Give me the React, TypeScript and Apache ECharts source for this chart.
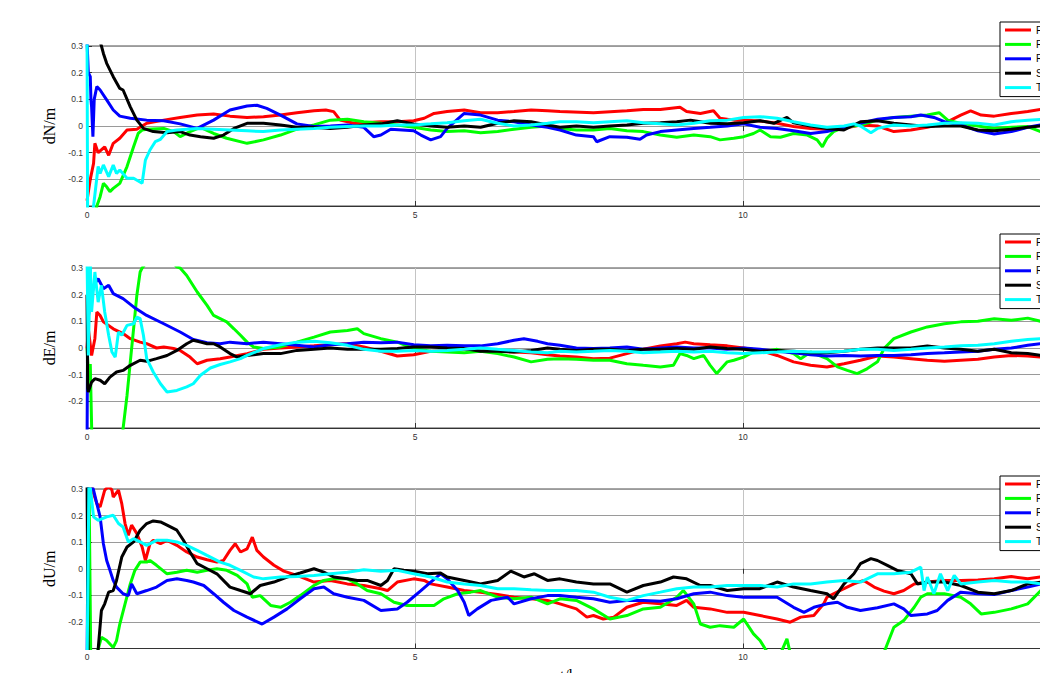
import React, { useEffect, useRef } from 'react';
import * as echarts from 'echarts';

type Pts = [number, number][];

const seriesNames = ['Proposed', 'RKF', 'R-AKF', 'SHAKF', 'Traditional KF'];
const seriesColors = ['#ff0000', '#00ff00', '#0000ff', '#000000', '#00ffff'];
const yAxisNames = ['dN/m', 'dE/m', 'dU/m'];
const xAxisName = 't/hour';
const xRange = [0, 15];
const xStep = 5;
const yRange = [-0.3, 0.3];
const yStep = 0.1;

// ---- dN ----
const dN_P: Pts = [[0,-0.28],[0.05,-0.2],[0.1,-0.14],[0.12,-0.065],[0.17,-0.1],[0.27,-0.078],[0.33,-0.11],[0.4,-0.065],[0.5,-0.046],[0.61,-0.015],[0.76,-0.012],[0.91,0.01],[1.17,0.022],[1.42,0.032],[1.68,0.041],[1.93,0.045],[2.18,0.037],[2.44,0.032],[2.69,0.035],[2.95,0.041],[3.2,0.05],[3.46,0.057],[3.64,0.06],[3.76,0.054],[3.86,0.022],[4.07,0.01],[4.48,0.016],[4.73,0.016],[4.98,0.02],[5.14,0.029],[5.29,0.047],[5.49,0.054],[5.75,0.06],[6.0,0.05],[6.26,0.05],[6.51,0.054],[6.77,0.06],[7.02,0.057],[7.21,0.054],[7.72,0.05],[8.23,0.057],[8.48,0.062],[8.74,0.062],[9.04,0.07],[9.14,0.054],[9.35,0.047],[9.55,0.057],[9.65,0.029],[9.86,0.022],[10.06,0.022],[10.26,0.019],[10.52,0.01],[10.77,-0.002],[11.03,-0.009],[11.28,-0.012],[11.54,-0.009],[11.79,0.004],[12.05,0],[12.3,-0.021],[12.56,-0.015],[12.81,-0.005],[13.07,0.01],[13.32,0.041],[13.47,0.057],[13.63,0.041],[13.83,0.037],[14.09,0.047],[14.34,0.054],[14.54,0.062],[14.8,0.06]];
const dN_R1: Pts = [[0.1,-0.4],[0.15,-0.3],[0.2,-0.265],[0.25,-0.215],[0.3,-0.228],[0.35,-0.246],[0.4,-0.234],[0.5,-0.215],[0.61,-0.152],[0.71,-0.078],[0.78,-0.028],[0.84,-0.015],[0.91,-0.012],[1.17,-0.009],[1.32,-0.021],[1.42,-0.04],[1.57,-0.021],[1.73,-0.005],[1.93,-0.028],[2.13,-0.046],[2.44,-0.065],[2.69,-0.052],[2.95,-0.034],[3.2,-0.012],[3.46,0.004],[3.71,0.022],[3.97,0.025],[4.22,0.016],[4.48,0.01],[4.73,0.004],[4.98,-0.005],[5.24,-0.015],[5.49,-0.021],[5.75,-0.018],[6.0,-0.025],[6.26,-0.021],[6.51,-0.012],[6.77,-0.005],[7.02,0],[7.21,-0.009],[7.46,-0.015],[7.72,-0.015],[7.97,-0.009],[8.23,-0.018],[8.48,-0.021],[8.74,-0.034],[8.99,-0.042],[9.25,-0.034],[9.5,-0.04],[9.65,-0.052],[9.86,-0.046],[10.01,-0.04],[10.16,-0.028],[10.26,-0.015],[10.42,-0.04],[10.57,-0.042],[10.77,-0.028],[10.98,-0.034],[11.13,-0.052],[11.21,-0.078],[11.28,-0.046],[11.38,-0.021],[11.54,-0.005],[11.79,0.004],[12.05,0.022],[12.3,0.032],[12.56,0.037],[12.81,0.041],[12.99,0.05],[13.12,0.022],[13.32,0.01],[13.58,0],[13.83,-0.009],[14.09,-0.005],[14.34,-0.002],[14.54,-0.021],[14.8,-0.015]];
const dN_R2: Pts = [[0,0.32],[0.02,0.2],[0.05,0.185],[0.06,0.1],[0.07,0.072],[0.09,-0.04],[0.11,0.1],[0.15,0.148],[0.2,0.135],[0.3,0.098],[0.4,0.06],[0.5,0.037],[0.66,0.029],[0.91,0.022],[1.17,0.02],[1.42,0.008],[1.68,-0.009],[1.93,0.022],[2.18,0.06],[2.44,0.075],[2.59,0.078],[2.74,0.066],[2.95,0.041],[3.2,0.008],[3.46,-0.002],[3.71,0],[3.97,0.004],[4.22,-0.005],[4.37,-0.04],[4.48,-0.034],[4.63,-0.012],[4.98,-0.018],[5.09,-0.034],[5.24,-0.052],[5.39,-0.04],[5.49,-0.009],[5.75,0.047],[6.0,0.041],[6.26,0.022],[6.51,0.016],[6.77,0.004],[7.02,-0.005],[7.21,-0.015],[7.46,-0.034],[7.72,-0.04],[7.77,-0.059],[7.97,-0.04],[8.23,-0.042],[8.43,-0.05],[8.53,-0.034],[8.74,-0.021],[8.99,-0.015],[9.25,-0.009],[9.5,-0.005],[9.76,0],[10.01,0.008],[10.26,-0.005],[10.52,-0.009],[10.77,-0.018],[11.03,-0.028],[11.28,-0.021],[11.54,-0.005],[11.79,0.01],[12.05,0.025],[12.3,0.032],[12.56,0.035],[12.71,0.041],[12.91,0.032],[13.07,0.016],[13.32,0.004],[13.58,-0.018],[13.83,-0.03],[14.09,-0.021],[14.34,-0.005],[14.54,0.004],[14.8,0.01]];
const dN_S: Pts = [[0.1,0.4],[0.22,0.3],[0.25,0.272],[0.3,0.235],[0.4,0.185],[0.5,0.141],[0.55,0.135],[0.66,0.072],[0.76,0.022],[0.86,-0.009],[1.01,-0.021],[1.22,-0.025],[1.42,-0.021],[1.57,-0.034],[1.73,-0.04],[1.93,-0.046],[2.08,-0.034],[2.24,-0.009],[2.44,0.01],[2.69,0.01],[2.95,0.004],[3.2,-0.005],[3.46,-0.005],[3.71,-0.009],[3.97,-0.005],[4.22,0.004],[4.48,0.008],[4.73,0.02],[4.98,0.008],[5.24,0],[5.49,-0.005],[5.75,0],[6.0,-0.005],[6.26,0.01],[6.51,0.02],[6.77,0.016],[7.02,0.004],[7.21,-0.005],[7.46,0],[7.72,-0.005],[7.97,0],[8.23,0.004],[8.48,0.01],[8.74,0.012],[8.99,0.016],[9.2,0.022],[9.35,0.016],[9.5,0.01],[9.76,0.008],[10.01,0.012],[10.26,0.02],[10.47,0.01],[10.67,0.032],[10.77,0.012],[11.03,0],[11.28,-0.009],[11.54,-0.015],[11.79,0.016],[12.05,0.02],[12.3,0.01],[12.56,0.004],[12.81,-0.002],[13.07,0],[13.32,0],[13.58,-0.015],[13.83,-0.018],[14.09,-0.012],[14.34,-0.005],[14.54,0],[14.8,0.005]];
const dN_T: Pts = [[0,0.4],[0.01,-0.4],[0.1,-0.3],[0.17,-0.152],[0.2,-0.178],[0.25,-0.146],[0.33,-0.19],[0.4,-0.146],[0.45,-0.178],[0.5,-0.165],[0.61,-0.196],[0.71,-0.196],[0.84,-0.215],[0.89,-0.128],[0.96,-0.09],[1.04,-0.059],[1.12,-0.05],[1.22,-0.021],[1.37,-0.015],[1.52,-0.012],[1.68,-0.009],[1.93,-0.012],[2.18,-0.015],[2.44,-0.018],[2.69,-0.021],[2.95,-0.015],[3.2,-0.012],[3.46,-0.009],[3.71,-0.005],[3.97,-0.002],[4.22,0],[4.48,0],[4.73,0.004],[4.98,0.004],[5.24,0.008],[5.49,0.012],[5.75,0.02],[6.0,0.025],[6.26,0.01],[6.51,0],[6.77,0.004],[7.02,0.01],[7.21,0.016],[7.46,0.016],[7.72,0.012],[7.97,0.016],[8.23,0.02],[8.48,0.012],[8.74,0.008],[8.99,0.004],[9.25,0.01],[9.5,0.02],[9.76,0.022],[10.01,0.032],[10.26,0.035],[10.52,0.029],[10.77,0.016],[11.03,0.004],[11.28,-0.005],[11.54,0],[11.69,0.008],[11.79,0],[11.95,-0.025],[12.05,-0.009],[12.3,0.004],[12.56,0],[12.81,0.004],[13.07,0.01],[13.32,0.012],[13.58,0.01],[13.83,0.004],[14.09,0.016],[14.34,0.022],[14.54,0.025],[14.8,0.025]];

// ---- dE ----
const dE_P: Pts = [[0,0],[0.02,0.072],[0.07,-0.028],[0.12,0.035],[0.15,0.135],[0.2,0.122],[0.25,0.098],[0.4,0.072],[0.55,0.054],[0.66,0.035],[0.81,0.022],[0.91,0.016],[1.06,0],[1.17,0.004],[1.32,-0.002],[1.42,-0.009],[1.57,-0.034],[1.68,-0.059],[1.83,-0.046],[2.03,-0.04],[2.18,-0.034],[2.44,-0.021],[2.69,-0.005],[2.95,0],[3.2,0.004],[3.46,0.008],[3.71,0.012],[3.97,0.016],[4.22,0.004],[4.48,-0.012],[4.73,-0.03],[4.98,-0.025],[5.24,-0.012],[5.49,-0.009],[5.75,-0.005],[6.0,-0.009],[6.26,-0.012],[6.51,-0.015],[6.77,-0.018],[7.02,-0.025],[7.21,-0.03],[7.46,-0.034],[7.72,-0.04],[7.97,-0.038],[8.23,-0.021],[8.48,-0.005],[8.74,0.008],[8.99,0.016],[9.12,0.022],[9.25,0.016],[9.5,0.012],[9.76,0.008],[10.01,0],[10.26,-0.009],[10.52,-0.028],[10.77,-0.052],[11.03,-0.065],[11.28,-0.071],[11.54,-0.059],[11.79,-0.046],[12.05,-0.03],[12.3,-0.034],[12.56,-0.04],[12.81,-0.046],[13.07,-0.05],[13.32,-0.046],[13.58,-0.042],[13.83,-0.034],[14.09,-0.028],[14.34,-0.03],[14.54,-0.034],[14.8,-0.03]];
const dE_R1: Pts = [[0,0],[0.03,-0.12],[0.05,-0.06],[0.08,-0.4],[0.5,-0.45],[0.55,-0.302],[0.61,-0.178],[0.66,-0.052],[0.71,0.072],[0.76,0.198],[0.81,0.285],[0.84,0.3],[1.1,0.38],[1.37,0.304],[1.42,0.3],[1.52,0.272],[1.68,0.21],[1.83,0.16],[1.93,0.122],[2.03,0.11],[2.13,0.098],[2.24,0.072],[2.34,0.048],[2.44,0.022],[2.54,0.004],[2.69,-0.002],[2.95,0.004],[3.2,0.022],[3.46,0.041],[3.71,0.06],[3.97,0.066],[4.12,0.072],[4.22,0.054],[4.48,0.035],[4.73,0.022],[4.98,-0.002],[5.24,-0.012],[5.49,-0.015],[5.75,-0.018],[6.0,-0.012],[6.26,-0.021],[6.51,-0.034],[6.77,-0.052],[7.02,-0.042],[7.21,-0.04],[7.46,-0.042],[7.72,-0.046],[7.97,-0.046],[8.23,-0.059],[8.48,-0.065],[8.74,-0.071],[8.94,-0.065],[9.04,-0.021],[9.14,-0.028],[9.25,-0.04],[9.4,-0.028],[9.5,-0.065],[9.6,-0.096],[9.76,-0.052],[9.86,-0.046],[10.01,-0.034],[10.16,-0.015],[10.26,-0.015],[10.52,-0.005],[10.77,-0.021],[10.88,-0.04],[11.03,-0.015],[11.28,-0.04],[11.44,-0.071],[11.59,-0.084],[11.74,-0.096],[11.89,-0.078],[12.05,-0.052],[12.15,-0.002],[12.3,0.035],[12.56,0.06],[12.81,0.079],[13.07,0.091],[13.32,0.098],[13.58,0.1],[13.83,0.11],[14.09,0.104],[14.34,0.112],[14.54,0.1],[14.8,0.1]];
const dE_R2: Pts = [[0,-0.4],[0.01,0.1],[0.04,0.15],[0.1,0.235],[0.17,0.26],[0.25,0.222],[0.33,0.235],[0.4,0.204],[0.55,0.185],[0.71,0.154],[0.91,0.122],[1.17,0.091],[1.42,0.06],[1.62,0.032],[1.83,0.02],[2.03,0.016],[2.18,0.022],[2.44,0.016],[2.69,0.022],[2.95,0.016],[3.2,0.01],[3.46,0.004],[3.71,0.012],[3.97,0.016],[4.22,0.022],[4.48,0.02],[4.73,0.022],[4.98,0.012],[5.24,0.008],[5.49,0.01],[5.75,0.008],[6.0,0.008],[6.26,0.016],[6.51,0.029],[6.66,0.035],[6.87,0.025],[7.02,0.016],[7.21,0.01],[7.46,0],[7.72,-0.002],[7.97,0],[8.23,0.004],[8.48,-0.005],[8.74,0],[8.99,0.004],[9.25,0],[9.5,0],[9.76,-0.005],[10.01,0],[10.26,-0.005],[10.52,-0.012],[10.77,-0.018],[11.03,-0.025],[11.28,-0.03],[11.54,-0.028],[11.79,-0.03],[12.05,-0.028],[12.3,-0.028],[12.56,-0.025],[12.81,-0.021],[13.07,-0.018],[13.32,-0.015],[13.58,-0.012],[13.83,-0.005],[14.09,0],[14.34,0.01],[14.54,0.016],[14.8,0.02]];
const dE_S: Pts = [[0,0.2],[0.01,-0.15],[0.02,-0.165],[0.07,-0.128],[0.12,-0.115],[0.2,-0.121],[0.27,-0.134],[0.35,-0.109],[0.45,-0.09],[0.55,-0.084],[0.66,-0.065],[0.81,-0.046],[0.91,-0.05],[1.06,-0.04],[1.22,-0.028],[1.37,-0.009],[1.52,0.016],[1.62,0.029],[1.73,0.022],[1.83,0.016],[1.93,0.016],[2.03,0.004],[2.18,-0.021],[2.29,-0.034],[2.44,-0.028],[2.69,-0.021],[2.95,-0.021],[3.2,-0.009],[3.46,-0.005],[3.71,0],[3.97,-0.005],[4.22,-0.005],[4.48,-0.005],[4.73,-0.002],[4.98,0.004],[5.24,0.004],[5.49,0],[5.75,-0.002],[6.0,-0.012],[6.26,-0.012],[6.51,-0.015],[6.77,-0.009],[7.02,0],[7.21,-0.005],[7.46,-0.009],[7.72,-0.005],[7.97,-0.005],[8.23,-0.009],[8.48,-0.005],[8.74,-0.005],[8.99,-0.002],[9.25,-0.005],[9.5,0.004],[9.76,-0.002],[10.01,-0.005],[10.26,-0.012],[10.52,-0.009],[10.77,-0.012],[11.03,-0.018],[11.28,-0.018],[11.54,-0.012],[11.79,-0.005],[12.05,0],[12.3,0],[12.56,0],[12.81,0.008],[13.07,0],[13.32,-0.005],[13.58,-0.012],[13.83,-0.005],[14.09,-0.018],[14.34,-0.021],[14.54,-0.028],[14.8,-0.028]];
const dE_T: Pts = [[0,0.35],[0.02,-0.028],[0.05,0.32],[0.07,0.135],[0.12,0.285],[0.17,0.172],[0.22,0.235],[0.27,0.135],[0.33,0.048],[0.38,-0.015],[0.43,-0.034],[0.48,0.06],[0.53,0.048],[0.61,0.085],[0.71,0.091],[0.76,0.116],[0.81,0.11],[0.86,0.048],[0.91,-0.04],[1.01,-0.09],[1.12,-0.134],[1.22,-0.165],[1.37,-0.159],[1.52,-0.146],[1.62,-0.134],[1.73,-0.102],[1.88,-0.075],[2.03,-0.062],[2.18,-0.052],[2.34,-0.04],[2.44,-0.028],[2.69,-0.002],[2.95,0.012],[3.2,0.022],[3.46,0.025],[3.71,0.02],[3.97,0.01],[4.22,-0.005],[4.48,-0.012],[4.73,-0.012],[4.98,-0.009],[5.24,-0.012],[5.49,-0.009],[5.75,-0.005],[6.0,0],[6.26,-0.005],[6.51,-0.009],[6.77,-0.015],[7.02,-0.018],[7.21,-0.012],[7.46,-0.015],[7.72,-0.012],[7.97,-0.009],[8.23,-0.012],[8.48,-0.018],[8.74,-0.015],[8.99,-0.012],[9.25,-0.015],[9.5,-0.012],[9.76,-0.018],[10.01,-0.021],[10.26,-0.018],[10.52,-0.015],[10.77,-0.012],[11.03,-0.015],[11.28,-0.015],[11.54,-0.012],[11.79,-0.005],[12.05,-0.005],[12.3,-0.009],[12.56,-0.005],[12.81,0],[13.07,0.004],[13.32,0.008],[13.58,0.01],[13.83,0.016],[14.09,0.025],[14.34,0.032],[14.54,0.035],[14.8,0.035]];

// ---- dU ----
const dU_P: Pts = [[0.02,0.35],[0.1,0.283],[0.15,0.245],[0.2,0.233],[0.27,0.296],[0.33,0.31],[0.38,0.296],[0.4,0.27],[0.48,0.296],[0.53,0.245],[0.58,0.17],[0.63,0.126],[0.68,0.164],[0.76,0.132],[0.84,0.082],[0.89,0.031],[0.96,0.094],[1.01,0.107],[1.12,0.094],[1.22,0.107],[1.37,0.088],[1.52,0.063],[1.68,0.044],[1.83,0.034],[1.98,0.025],[2.08,0.031],[2.18,0.069],[2.26,0.094],[2.34,0.063],[2.44,0.075],[2.52,0.119],[2.59,0.069],[2.69,0.044],[2.85,0.013],[3.0,-0.009],[3.2,-0.025],[3.46,-0.05],[3.71,-0.044],[3.97,-0.057],[4.22,-0.063],[4.48,-0.075],[4.58,-0.082],[4.73,-0.05],[4.98,-0.038],[5.14,-0.044],[5.24,-0.057],[5.49,-0.069],[5.75,-0.082],[6.0,-0.088],[6.26,-0.097],[6.51,-0.107],[6.77,-0.113],[7.02,-0.119],[7.21,-0.132],[7.46,-0.151],[7.62,-0.182],[7.72,-0.176],[7.87,-0.189],[8.03,-0.182],[8.23,-0.145],[8.48,-0.126],[8.74,-0.132],[8.99,-0.138],[9.14,-0.119],[9.25,-0.145],[9.5,-0.151],[9.76,-0.164],[10.01,-0.164],[10.26,-0.176],[10.52,-0.189],[10.72,-0.201],[10.88,-0.182],[11.08,-0.176],[11.23,-0.132],[11.28,-0.107],[11.38,-0.094],[11.54,-0.075],[11.69,-0.057],[11.84,-0.044],[12.0,-0.069],[12.15,-0.084],[12.3,-0.094],[12.45,-0.082],[12.61,-0.057],[12.81,-0.05],[13.07,-0.044],[13.32,-0.044],[13.58,-0.042],[13.83,-0.038],[14.09,-0.029],[14.34,-0.038],[14.54,-0.031],[14.8,-0.03]];
const dU_R1: Pts = [[0.01,-0.4],[0.03,0.35],[0.06,-0.4],[0.22,-0.258],[0.3,-0.27],[0.4,-0.296],[0.45,-0.27],[0.5,-0.208],[0.58,-0.132],[0.66,-0.057],[0.73,-0.006],[0.81,0.025],[0.91,0.025],[0.96,0.031],[1.06,0.013],[1.22,-0.019],[1.37,-0.013],[1.52,-0.006],[1.68,-0.013],[1.83,-0.006],[1.98,0],[2.13,-0.006],[2.29,-0.025],[2.44,-0.057],[2.52,-0.107],[2.64,-0.101],[2.8,-0.138],[2.95,-0.145],[3.1,-0.126],[3.25,-0.101],[3.46,-0.063],[3.61,-0.044],[3.76,-0.038],[3.97,-0.038],[4.12,-0.057],[4.27,-0.082],[4.48,-0.094],[4.68,-0.126],[4.88,-0.138],[5.09,-0.138],[5.29,-0.138],[5.44,-0.113],[5.65,-0.094],[5.85,-0.088],[6.0,-0.082],[6.26,-0.107],[6.51,-0.113],[6.77,-0.107],[7.02,-0.132],[7.21,-0.113],[7.46,-0.119],[7.72,-0.151],[7.97,-0.189],[8.23,-0.176],[8.48,-0.151],[8.74,-0.145],[8.99,-0.107],[9.09,-0.082],[9.25,-0.132],[9.35,-0.208],[9.5,-0.22],[9.65,-0.214],[9.86,-0.22],[10.01,-0.189],[10.16,-0.245],[10.26,-0.27],[10.34,-0.302],[10.5,-0.36],[10.67,-0.264],[10.75,-0.35],[11.0,-0.45],[11.5,-0.5],[12.0,-0.4],[12.17,-0.302],[12.3,-0.22],[12.45,-0.195],[12.61,-0.145],[12.71,-0.107],[12.81,-0.094],[13.07,-0.094],[13.32,-0.107],[13.47,-0.132],[13.63,-0.17],[13.83,-0.164],[14.09,-0.151],[14.34,-0.132],[14.54,-0.082],[14.8,-0.06]];
const dU_R2: Pts = [[0,-0.4],[0.02,0.35],[0.1,0.296],[0.15,0.245],[0.2,0.195],[0.25,0.094],[0.3,0.031],[0.35,-0.006],[0.4,-0.044],[0.45,-0.069],[0.55,-0.094],[0.63,-0.101],[0.68,-0.057],[0.76,-0.094],[0.91,-0.082],[1.06,-0.069],[1.22,-0.044],[1.37,-0.038],[1.52,-0.044],[1.62,-0.05],[1.78,-0.063],[1.93,-0.094],[2.08,-0.126],[2.24,-0.157],[2.44,-0.182],[2.67,-0.208],[2.85,-0.182],[3.05,-0.151],[3.25,-0.113],[3.46,-0.075],[3.61,-0.069],[3.76,-0.094],[3.97,-0.107],[4.22,-0.119],[4.48,-0.157],[4.73,-0.151],[4.88,-0.126],[5.09,-0.082],[5.24,-0.05],[5.39,-0.019],[5.49,-0.038],[5.65,-0.082],[5.75,-0.126],[5.82,-0.176],[5.95,-0.151],[6.16,-0.119],[6.41,-0.107],[6.51,-0.132],[6.77,-0.113],[7.02,-0.101],[7.21,-0.101],[7.46,-0.107],[7.72,-0.113],[7.97,-0.126],[8.23,-0.119],[8.48,-0.119],[8.74,-0.122],[8.99,-0.113],[9.25,-0.094],[9.5,-0.088],[9.76,-0.101],[10.01,-0.107],[10.26,-0.107],[10.52,-0.107],[10.77,-0.145],[10.93,-0.164],[11.08,-0.145],[11.28,-0.132],[11.44,-0.126],[11.59,-0.145],[11.79,-0.157],[12.05,-0.147],[12.3,-0.132],[12.45,-0.151],[12.56,-0.176],[12.81,-0.17],[12.96,-0.157],[13.12,-0.119],[13.32,-0.088],[13.58,-0.094],[13.83,-0.097],[14.09,-0.082],[14.34,-0.069],[14.54,-0.057],[14.8,-0.05]];
const dU_S: Pts = [[0,0.35],[0.02,-0.4],[0.15,-0.4],[0.17,-0.302],[0.22,-0.157],[0.27,-0.132],[0.33,-0.088],[0.4,-0.082],[0.45,-0.044],[0.53,0.044],[0.61,0.082],[0.71,0.101],[0.81,0.145],[0.91,0.17],[1.01,0.18],[1.12,0.176],[1.22,0.164],[1.37,0.145],[1.47,0.107],[1.57,0.063],[1.68,0.019],[1.83,0],[1.98,-0.019],[2.18,-0.069],[2.34,-0.082],[2.49,-0.094],[2.64,-0.063],[2.85,-0.05],[3.05,-0.031],[3.25,-0.016],[3.46,0],[3.61,-0.013],[3.76,-0.031],[3.97,-0.038],[4.12,-0.044],[4.27,-0.044],[4.48,-0.063],[4.58,-0.044],[4.68,0],[4.83,-0.006],[4.98,-0.009],[5.19,-0.019],[5.39,-0.016],[5.49,-0.031],[5.75,-0.044],[6.0,-0.057],[6.26,-0.044],[6.46,-0.009],[6.66,-0.031],[6.82,-0.019],[7.02,-0.044],[7.21,-0.038],[7.46,-0.05],[7.72,-0.057],[7.97,-0.057],[8.23,-0.088],[8.48,-0.063],[8.74,-0.05],[8.94,-0.031],[9.14,-0.038],[9.35,-0.063],[9.5,-0.063],[9.76,-0.082],[10.01,-0.075],[10.26,-0.075],[10.52,-0.05],[10.77,-0.069],[11.03,-0.082],[11.28,-0.094],[11.38,-0.113],[11.54,-0.057],[11.69,-0.019],[11.79,0.019],[11.95,0.038],[12.05,0.031],[12.2,0.013],[12.35,-0.006],[12.56,-0.019],[12.66,-0.057],[12.81,-0.05],[13.07,-0.05],[13.32,-0.063],[13.58,-0.088],[13.83,-0.094],[14.09,-0.082],[14.34,-0.057],[14.54,-0.05],[14.8,-0.045]];
const dU_T: Pts = [[0,-0.4],[0.03,0.35],[0.1,0.195],[0.17,0.182],[0.3,0.195],[0.4,0.201],[0.48,0.17],[0.55,0.157],[0.63,0.101],[0.71,0.113],[0.81,0.101],[0.91,0.088],[1.06,0.107],[1.22,0.107],[1.37,0.101],[1.52,0.088],[1.68,0.069],[1.83,0.05],[2.03,0.025],[2.18,0.013],[2.34,-0.006],[2.54,-0.031],[2.69,-0.038],[2.95,-0.031],[3.2,-0.029],[3.46,-0.025],[3.71,-0.019],[3.97,-0.013],[4.22,-0.004],[4.48,-0.009],[4.73,-0.006],[4.98,-0.019],[5.24,-0.031],[5.49,-0.05],[5.75,-0.057],[6.0,-0.063],[6.26,-0.075],[6.51,-0.075],[6.77,-0.079],[7.02,-0.082],[7.21,-0.082],[7.46,-0.082],[7.72,-0.088],[7.97,-0.107],[8.23,-0.119],[8.48,-0.101],[8.74,-0.088],[8.99,-0.075],[9.25,-0.069],[9.5,-0.069],[9.76,-0.063],[10.01,-0.063],[10.26,-0.063],[10.52,-0.069],[10.77,-0.057],[11.03,-0.057],[11.28,-0.05],[11.54,-0.044],[11.79,-0.05],[12.05,-0.019],[12.3,-0.019],[12.56,-0.013],[12.71,0.006],[12.76,-0.082],[12.81,-0.031],[12.91,-0.094],[13.01,-0.019],[13.12,-0.082],[13.22,-0.025],[13.32,-0.057],[13.58,-0.05],[13.83,-0.044],[14.09,-0.05],[14.34,-0.05],[14.54,-0.057],[14.8,-0.055]];

const panelData: Pts[][] = [
  [dN_P, dN_R1, dN_R2, dN_S, dN_T],
  [dE_P, dE_R1, dE_R2, dE_S, dE_T],
  [dU_P, dU_R1, dU_R2, dU_S, dU_T],
];

const gridTops = [46, 268, 489];
const gridHeights = [160, 160, 159.5];
const legendTops = [22, 234, 476];

const fmtY = (v: number) => {
  const r = Math.round(v * 10) / 10;
  if (r === -0.3) return '';
  return r === 0 ? '0' : String(r);
};

export default function App() {
  const ref = useRef<HTMLDivElement>(null);
  useEffect(() => {
    if (!ref.current) return;
    const chart = echarts.init(ref.current, null, { renderer: 'svg' });
    const tickColor = '#333333';
    const grid = gridTops.map((t, i) => ({
      left: 87, top: t, width: 984, height: gridHeights[i],
      containLabel: false, outerBoundsMode: 'none',
      show: true, borderColor: '#4d4d4d', borderWidth: 1, backgroundColor: 'transparent',
    }));
    const xAxis: any[] = [];
    gridTops.forEach((_, i) => {
      xAxis.push({
        gridIndex: i, type: 'value', min: xRange[0], max: xRange[1], interval: xStep, position: 'bottom',
        axisLine: { show: true, onZero: false, lineStyle: { color: tickColor, width: 1 } },
        axisTick: { show: true, inside: true, length: 5, lineStyle: { color: tickColor } },
        axisLabel: { fontSize: 8.5, color: tickColor, margin: 4, showMaxLabel: false, fontFamily: 'Liberation Sans, Arial, sans-serif' },
        splitLine: { show: true, lineStyle: { color: '#c4c4c4', width: 1 } },
        name: i === 2 ? xAxisName : '', nameLocation: 'middle', nameGap: 19,
        nameTextStyle: { fontFamily: 'Liberation Serif, Times New Roman, serif', fontSize: 16, color: '#000' },
      });
      xAxis.push({
        gridIndex: i, type: 'value', min: xRange[0], max: xRange[1], interval: xStep, position: 'top',
        axisLine: { show: false },
        axisTick: { show: true, inside: true, length: 5, lineStyle: { color: tickColor } },
        axisLabel: { show: false }, splitLine: { show: false },
      });
    });
    const yAxis = gridTops.map((_, i) => ({
      gridIndex: i, type: 'value', min: yRange[0], max: yRange[1], interval: yStep,
      axisLine: { show: true, onZero: false, lineStyle: { color: tickColor, width: 1 } },
      axisTick: { show: true, inside: true, length: 5, lineStyle: { color: tickColor } },
      axisLabel: { fontSize: 8.5, color: tickColor, margin: 4, formatter: fmtY, fontFamily: 'Liberation Sans, Arial, sans-serif' },
      splitLine: { show: true, lineStyle: { color: '#9a9a9a', width: 1 } },
      name: yAxisNames[i], nameLocation: 'middle', nameGap: 17,
      nameTextStyle: { fontFamily: 'Liberation Serif, Times New Roman, serif', fontSize: 16, color: '#000' },
    }));
    const series: any[] = [];
    panelData.forEach((panel, i) => {
      panel.forEach((data, j) => {
        series.push({
          type: 'line', name: seriesNames[j], xAxisIndex: 2 * i, yAxisIndex: i, data,
          showSymbol: false, symbol: 'none', clip: true, silent: true, z: 2 + j,
          lineStyle: { width: 3, color: seriesColors[j] }, itemStyle: { color: seriesColors[j] },
        });
      });
    });
    const legend = legendTops.map((t) => ({
      orient: 'vertical', left: 1000, top: t, data: seriesNames, icon: 'rect',
      itemWidth: 26, itemHeight: 3, itemGap: 2.4, padding: [2, 40, 3, 5],
      backgroundColor: '#ffffff', borderColor: '#000000', borderWidth: 1, selectedMode: false,
      textStyle: { fontSize: 10, lineHeight: 12, color: '#000', fontFamily: 'Liberation Sans, Arial, sans-serif' },
      z: 10,
    }));
    chart.setOption({
      animation: false,
      backgroundColor: '#ffffff',
      grid, xAxis, yAxis, series, legend,
    });
    return () => chart.dispose();
  }, []);
  return (
    <div style={{ position: 'absolute', left: 0, top: 0, width: 1040, height: 673, overflow: 'hidden', background: '#fff' }}>
      <div ref={ref} style={{ width: 1040, height: 673 }} />
    </div>
  );
}
